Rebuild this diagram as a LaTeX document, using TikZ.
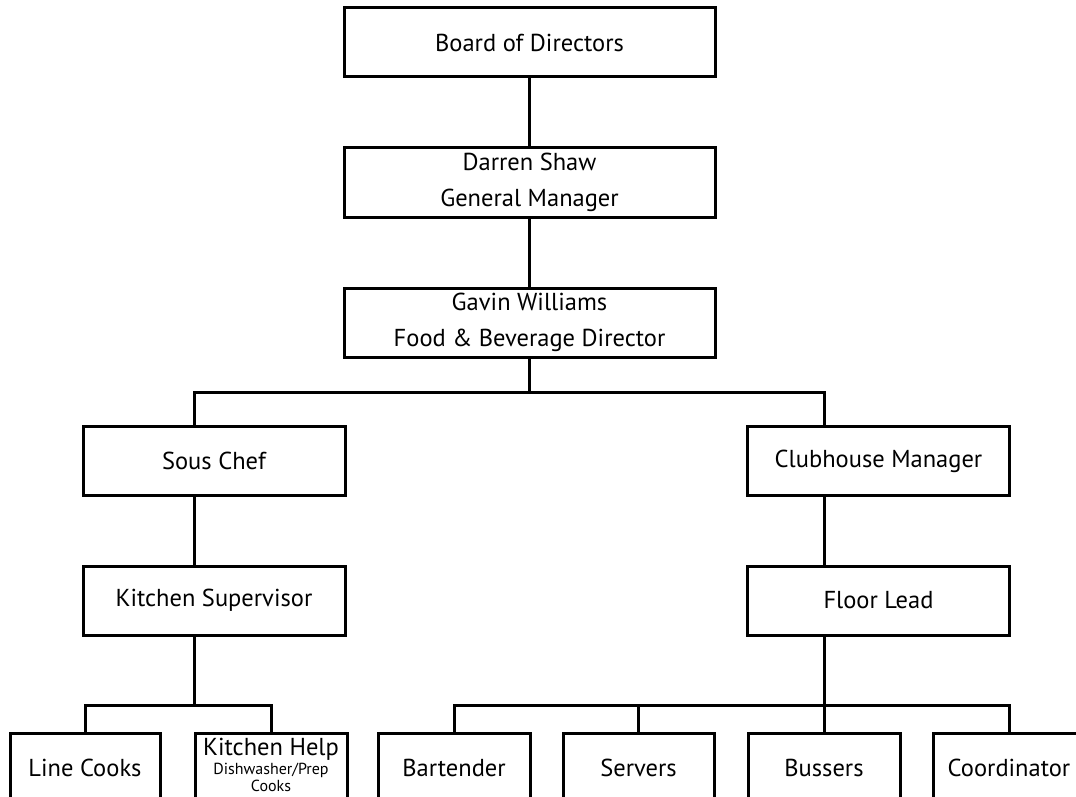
\documentclass[tikz,border=0pt]{standalone}
\usepackage{fontspec}
\setmainfont{PT Sans}
\begin{document}
\begin{tikzpicture}[x=1pt,y=-1pt,
  box/.style={draw=black,line width=3pt,rectangle,minimum height=69pt,inner sep=0pt,
    font=\fontsize{24.5}{35.5}\selectfont,align=center,text=black},
  wide/.style={box,minimum width=371pt},
  mid/.style={box,minimum width=262pt},
  small/.style={box,minimum width=151pt},
  conn/.style={draw=black,line width=3pt,line join=miter}]
\clip (0,0) rectangle (1076,797);
\fill[white] (0,0) rectangle (1076,797);
% nodes
\node[wide] (board) at (529.5,42.5) {Board of Directors};
\node[wide] (darren) at (529.5,182.5) {Darren Shaw\\General Manager};
\node[wide] (gavin) at (529.5,322.5) {Gavin Williams\\Food \& Beverage Director};
\node[mid] (sous) at (214,461) {Sous Chef};
\node[mid] (club) at (878.5,461) {Clubhouse Manager};
\node[mid] (ksup) at (214,600.5) {Kitchen Supervisor};
\node[mid] (flead) at (878.5,600.5) {Floor Lead};
\node[small,minimum width=150pt] (line) at (85,767.5) {Line Cooks};
\node[small,minimum width=152pt] (khelp) at (271,767.5) {};
\node[font=\fontsize{24.5}{24.5}\selectfont,inner sep=0pt,anchor=base] (khelpA) at (271,755) {Kitchen Help};
\node[font=\fontsize{16}{16}\selectfont,inner sep=0pt,anchor=base] (khelpB) at (271,774) {Dishwasher/Prep};
\node[font=\fontsize{16}{16}\selectfont,inner sep=0pt,anchor=base] (khelpC) at (271,791) {Cooks};
\node[small,minimum width=152pt] (bart) at (454,767.5) {Bartender};
\node[small,minimum width=151pt] (serv) at (638.5,767.5) {Servers};
\node[small,minimum width=152pt] (buss) at (824,767.5) {Bussers};
\node[small,minimum width=152pt] (coord) at (1009,767.5) {Coordinator};
% junction coordinates
\coordinate (bL) at (194,392);
\coordinate (bR) at (824,392);
\coordinate (cL) at (194,705);
\coordinate (cR) at (824,705);
% connectors
\draw[conn] (board.south) -- (darren.north);
\draw[conn] (darren.south) -- (gavin.north);
\draw[conn] (gavin.south) -- (gavin.south |- bL);
\draw[conn] (sous.north -| bL) -- (bL) -- (bR) -- (club.north -| bR);
\draw[conn] (sous.south -| bL) -- (ksup.north -| bL);
\draw[conn] (club.south -| bR) -- (flead.north -| bR);
\draw[conn] (ksup.south -| cL) -- (cL);
\draw[conn] (line.north) -- (line.north |- cL) -- (khelp.north |- cL) -- (khelp.north);
\draw[conn] (flead.south -| cR) -- (buss.north);
\draw[conn] (bart.north) -- (bart.north |- cR) -- (coord.north |- cR) -- (coord.north);
\draw[conn] (serv.north) -- (serv.north |- cR);
\end{tikzpicture}
\end{document}
